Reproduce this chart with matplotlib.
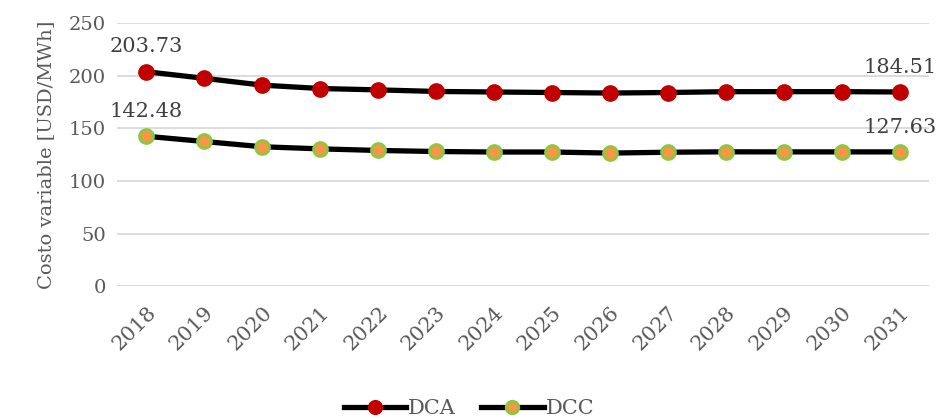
import matplotlib.pyplot as plt

years = [str(y) for y in range(2018, 2032)]
dca = [203.73, 197.5, 191.0, 187.8, 186.5, 185.0, 184.5, 184.0, 183.5, 184.0, 184.8, 184.8, 184.8, 184.51]
dcc = [142.48, 137.5, 132.5, 130.5, 129.0, 128.0, 127.5, 127.5, 126.5, 127.3, 127.7, 127.63, 127.63, 127.63]
yticks = [0, 50, 100, 150, 200, 250]

plt.rcParams["font.family"] = ["DejaVu Serif"]
gray = "#595959"

def main():
    fig = plt.figure(figsize=(9.38, 4.18), dpi=100)
    ax = fig.add_axes([0.125, 0.315, 0.865, 0.63])
    x = list(range(len(years)))

    ax.plot(x, dca, color="black", linewidth=3.8, marker="o", markersize=11,
            markerfacecolor="#C00000", markeredgecolor="#C00000", label="DCA", zorder=3)
    ax.plot(x, dcc, color="black", linewidth=3.8, marker="o", markersize=10,
            markerfacecolor="#F79646", markeredgecolor="#8DC63F", markeredgewidth=2,
            label="DCC", zorder=3)

    # data labels on first and last points
    for series in (dca, dcc):
        for i in (0, len(series) - 1):
            ax.annotate(f"{series[i]:.2f}", (x[i], series[i]), xytext=(0, 11),
                        textcoords="offset points", ha="center", va="bottom",
                        fontsize=15, color="#404040")

    ax.set_ylim(0, 250)
    ax.set_xlim(-0.5, len(years) - 0.5)
    ax.set_yticks(yticks)
    ax.set_xticks(x)
    ax.set_xticklabels(years, rotation=45, ha="right", rotation_mode="anchor")
    ax.tick_params(axis="both", length=0, labelsize=14, colors=gray, pad=8)
    ax.tick_params(axis="x", labelsize=15, pad=12)
    ax.grid(axis="y", color="#d9d9d9", linewidth=1.3)
    ax.set_axisbelow(True)
    for s in ax.spines.values():
        s.set_visible(False)
    ax.set_ylabel("Costo variable [USD/MWh]", fontsize=14, color=gray, labelpad=10)

    leg = fig.legend(loc="lower center", bbox_to_anchor=(0.5, -0.045), ncol=2, frameon=False,
                     fontsize=15, handlelength=3, columnspacing=1.2, handletextpad=0.1,
                     markerscale=0.9)
    for t in leg.get_texts():
        t.set_color(gray)

    fig.savefig("out.png", dpi=100)

if __name__ == '__main__':
    main()
